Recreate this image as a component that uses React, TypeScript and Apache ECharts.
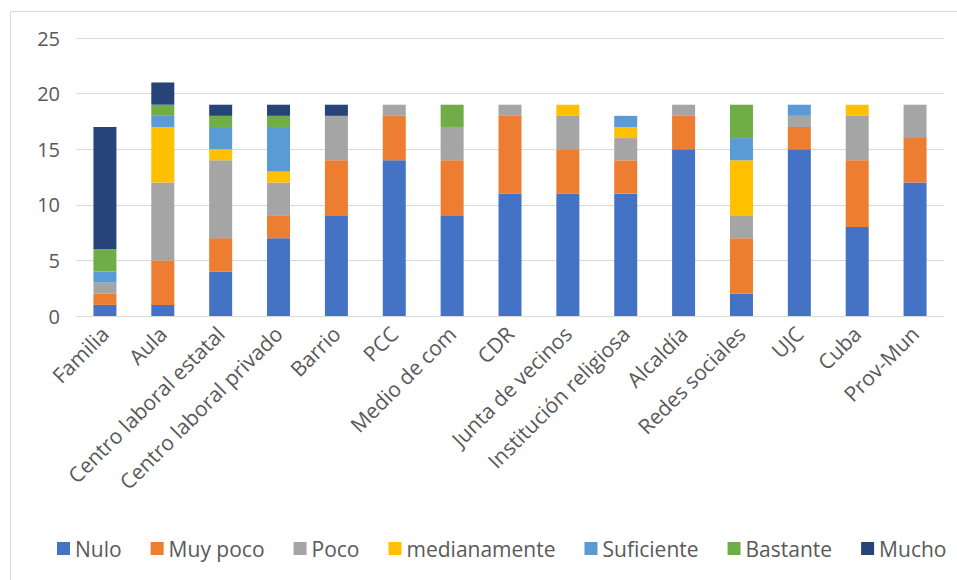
import React, { useEffect, useRef } from "react";
import * as echarts from "echarts";

const categories = [
  "Familia",
  "Aula",
  "Centro laboral estatal",
  "Centro laboral privado",
  "Barrio",
  "PCC",
  "Medio de com",
  "CDR",
  "Junta de vecinos",
  "Institución religiosa",
  "Alcaldía",
  "Redes sociales",
  "UJC",
  "Cuba",
  "Prov-Mun",
];

const nulo = [1, 1, 4, 7, 9, 14, 9, 11, 11, 11, 15, 2, 15, 8, 12];
const muyPoco = [1, 4, 3, 2, 5, 4, 5, 7, 4, 3, 3, 5, 2, 6, 4];
const poco = [1, 7, 7, 3, 4, 1, 3, 1, 3, 2, 1, 2, 1, 4, 3];
const medianamente = [0, 5, 1, 1, 0, 0, 0, 0, 1, 1, 0, 5, 0, 1, 0];
const suficiente = [1, 1, 2, 4, 0, 0, 0, 0, 0, 1, 0, 2, 1, 0, 0];
const bastante = [2, 1, 1, 1, 0, 0, 2, 0, 0, 0, 0, 3, 0, 0, 0];
const mucho = [11, 2, 1, 1, 1, 0, 0, 0, 0, 0, 0, 0, 0, 0, 0];

const yTicks = { min: 0, max: 25, interval: 5 };

const seriesDefs = [
  { name: "Nulo", data: nulo, color: "#4472C4" },
  { name: "Muy poco", data: muyPoco, color: "#ED7D31" },
  { name: "Poco", data: poco, color: "#A5A5A5" },
  { name: "medianamente", data: medianamente, color: "#FFC000" },
  { name: "Suficiente", data: suficiente, color: "#5B9BD5" },
  { name: "Bastante", data: bastante, color: "#70AD47" },
  { name: "Mucho", data: mucho, color: "#264478" },
];

const FONT = "'Open Sans', 'Noto Sans', sans-serif";
const TEXT = "#595959";

export default function App() {
  const ref = useRef<HTMLDivElement>(null);

  useEffect(() => {
    if (!ref.current) return;
    const chart = echarts.init(ref.current, undefined, { renderer: "svg" });
    chart.setOption({
      animation: false,
      backgroundColor: "#ffffff",
      textStyle: { fontFamily: FONT },
      graphic: [
        {
          type: "rect",
          shape: { x: 10.5, y: 11.5, width: 960, height: 600 },
          style: { fill: "none", stroke: "#d9d9d9", lineWidth: 1 },
          silent: true,
        },
      ],
      grid: { left: 76, right: 13, top: 38, bottom: 264, containLabel: false },
      legend: {
        bottom: 16,
        left: 52,
        itemWidth: 13,
        itemHeight: 13,
        itemGap: 29,
        icon: "rect",
        textStyle: { color: TEXT, fontSize: 21, fontFamily: FONT },
        data: seriesDefs.map((s) => s.name),
      },
      xAxis: {
        type: "category",
        data: categories,
        axisTick: { show: false },
        axisLine: { lineStyle: { color: "#d9d9d9", width: 1 } },
        axisLabel: {
          rotate: 45,
          interval: 0,
          color: TEXT,
          fontSize: 21,
          fontFamily: FONT,
          margin: 14,
        },
      },
      yAxis: {
        type: "value",
        min: yTicks.min,
        max: yTicks.max,
        interval: yTicks.interval,
        axisLine: { show: false },
        axisTick: { show: false },
        splitLine: { lineStyle: { color: "#d9d9d9", width: 1 } },
        axisLabel: { color: TEXT, fontSize: 20, fontFamily: FONT, margin: 16 },
      },
      series: seriesDefs.map((s) => ({
        name: s.name,
        type: "bar",
        stack: "total",
        barWidth: 23,
        itemStyle: { color: s.color },
        data: s.data,
      })),
    });
    return () => chart.dispose();
  }, []);

  return (
    <div
      ref={ref}
      style={{ position: "absolute", left: 0, top: 0, width: 957, height: 580 }}
    />
  );
}
